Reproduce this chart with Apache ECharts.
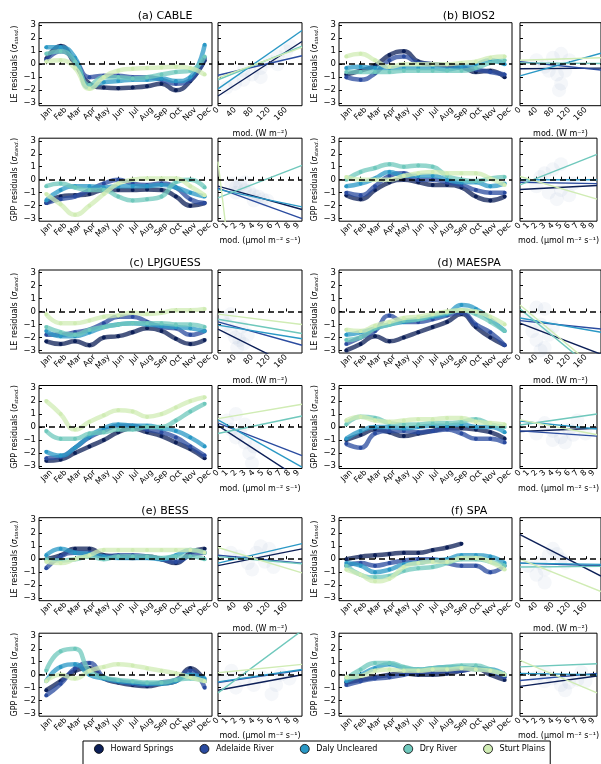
<!DOCTYPE html>
<html>
<head>
<meta charset="utf-8">
<script src="https://cdn.jsdelivr.net/npm/echarts@6/dist/echarts.min.js"></script>
<style>
html, body { margin: 0; padding: 0; background: #fff; }
#main { width: 601px; height: 764px; }
</style>
</head>
<body>
<div id="main"></div>
<script>
// sites and colours (YlGnBu-ish)
const sites = ['Howard Springs', 'Adelaide River', 'Daly Uncleared', 'Dry River', 'Sturt Plains'];
const siteColors = ['#0c1f57', '#2a4b9f', '#2a98c5', '#6fc8bc', '#d0ecb4'];
const months = ['Jan', 'Feb', 'Mar', 'Apr', 'May', 'Jun', 'Jul', 'Aug', 'Sep', 'Oct', 'Nov', 'Dec'];
const yTicks = [-3, -2, -1, 0, 1, 2, 3];
const leTicks = [0, 40, 80, 120, 160];
const gppTicks = [0, 1, 2, 3, 4, 5, 6, 7, 8, 9];
const leRange = [0, 197];
const gppRange = [0, 9.4];

// monthly residuals (Jan..Dec), one row per site
const cableLE = [
  [0.4, 1.4, 0.0, -1.5, -1.8, -1.85, -1.8, -1.7, -1.5, -2.0, -1.3, 0.3],
  [0.3, 1.0, 0.3, -1.0, -0.9, -0.9, -1.0, -1.0, -1.2, -1.5, -1.2, 0.5],
  [1.3, 1.3, 0.5, -1.8, -1.4, -1.3, -1.2, -1.2, -1.1, -1.3, -1.0, 1.5],
  [0.8, 1.0, 0.2, -1.6, -1.0, -1.0, -1.1, -1.0, -0.8, -0.6, -0.5, 0.6],
  [0.2, 0.3, -0.3, -1.9, -1.0, -0.5, -0.35, -0.3, -0.25, -0.2, -0.3, -0.8]
];
const cableGPP = [
  [-1.8, -1.3, -1.2, -1.1, -0.8, -0.8, -0.8, -0.75, -0.8, -1.3, -2.0, -1.8],
  [-1.8, -1.5, -1.3, -0.8, -0.3, 0.0, -0.3, -0.4, -0.3, -0.6, -1.5, -1.8],
  [-1.6, -0.8, -0.5, -0.5, -0.6, -0.5, -0.5, -0.5, -0.4, -0.6, -1.0, -1.3],
  [-0.5, -0.3, -0.6, -0.8, -0.8, -1.3, -1.6, -1.5, -1.3, -0.2, 0.0, -0.6],
  [-1.1, -1.9, -2.7, -2.0, -1.1, -0.3, 0.0, 0.1, 0.1, 0.1, -0.5, -1.2]
];
const bios2LE = [
  [-0.8, -0.5, -0.1, 0.7, 1.0, 0.2, 0.0, -0.1, -0.2, -0.6, -0.5, -1.0],
  [-1.0, -1.2, -0.7, 0.3, 0.6, 0.1, 0.0, -0.1, -0.3, -0.4, -0.6, -0.8],
  [-0.3, -0.2, -0.3, -0.3, -0.3, -0.3, -0.3, -0.4, -0.2, 0.0, 0.3, 0.0],
  [-0.6, -0.6, -0.6, -0.6, -0.5, -0.5, -0.5, -0.5, -0.5, -0.3, 0.1, 0.3],
  [0.6, 0.8, 0.3, -0.2, 0.0, 0.0, 0.0, 0.0, 0.1, 0.2, 0.5, 0.6]
];
const bios2GPP = [
  [-1.2, -1.5, -0.8, -0.2, 0.0, -0.2, -0.4, -0.4, -0.6, -1.3, -1.6, -1.3],
  [-1.0, -1.2, -0.5, 0.3, 0.5, 0.0, 0.0, -0.2, -0.4, -0.8, -1.0, -1.0],
  [-0.5, -0.3, 0.1, 0.6, 0.3, 0.3, 0.3, 0.0, -0.2, -0.2, -0.5, -0.3],
  [0.0, 0.6, 0.9, 1.2, 1.0, 1.1, 1.0, 0.3, 0.0, -0.1, 0.1, 0.2],
  [0.2, 0.0, 0.0, 0.0, 0.3, 0.5, 0.6, 0.5, 0.5, 0.5, 0.1, -0.4]
];
const lpjLE = [
  [-2.3, -2.5, -2.3, -2.6, -2.0, -1.9, -1.6, -1.3, -1.5, -2.1, -2.5, -2.2],
  [-1.8, -1.8, -1.6, -1.4, -0.9, -0.4, -0.4, -0.8, -1.2, -1.3, -1.8, -1.5],
  [-1.5, -1.9, -1.9, -1.6, -1.2, -1.0, -0.9, -1.0, -1.1, -1.2, -1.3, -1.5],
  [-1.2, -1.6, -1.8, -1.4, -1.2, -1.0, -0.9, -0.9, -0.9, -1.0, -1.0, -1.2],
  [-0.2, -0.9, -0.9, -0.7, -0.4, -0.3, -0.1, -0.2, -0.1, 0.1, 0.1, 0.2]
];
const lpjGPP = [
  [-2.6, -2.5, -2.0, -1.5, -1.0, -0.4, -0.1, -0.4, -0.7, -1.2, -1.7, -2.4],
  [-2.4, -2.3, -1.6, -0.8, -0.3, 0.1, 0.1, -0.2, -0.4, -0.8, -1.5, -2.2],
  [-1.9, -2.2, -1.6, -0.7, -0.1, 0.2, 0.1, 0.1, -0.1, -0.3, -0.8, -1.5],
  [-0.3, -0.9, -0.9, -0.5, -0.4, -0.2, -0.2, 0.0, 0.0, 0.5, 1.2, 1.8],
  [2.0, 1.0, -0.2, 0.4, 0.9, 1.3, 1.2, 0.8, 1.0, 1.5, 2.0, 2.3]
];
const maespaLE = [
  [-3.0, -2.5, -1.9, -2.3, -2.0, -1.6, -1.2, -0.8, -0.2, -1.2, -2.0, -2.6],
  [-2.5, -2.0, -1.5, -0.3, -0.8, -0.8, -0.6, -0.3, -0.1, -1.0, -1.6, -2.6],
  [-1.8, -1.6, -1.3, -1.0, -0.8, -0.6, -0.4, -0.2, 0.5, 0.2, -0.6, -1.5],
  [-2.2, -2.0, -1.3, -1.0, -0.7, -0.6, -0.3, -0.1, 0.1, -0.2, -0.8, -1.5],
  [-1.4, -1.5, -1.1, -0.8, -0.5, -0.4, -0.2, 0.0, 0.1, 0.0, -0.4, -1.0]
];
const maespaGPP = [
  [-1.0, -0.6, -0.2, -0.4, -0.7, -0.5, -0.3, -0.1, -0.1, -0.2, -0.4, -0.9],
  [-1.3, -1.6, -0.5, -0.3, -0.3, -0.4, -0.3, -0.2, -0.5, -0.9, -0.9, -1.2],
  [-0.9, -0.3, 0.0, 0.0, -0.1, 0.0, 0.1, 0.1, 0.2, 0.0, 0.0, -0.4],
  [0.2, 0.8, 0.7, 0.3, 0.2, 0.2, 0.3, 0.3, 0.4, 0.6, 0.2, 0.0],
  [0.5, 0.8, 0.5, 0.4, 0.5, 0.6, 0.6, 0.7, 0.7, 0.4, 0.3, 0.2]
];
const bessLE = [
  [0.0, 0.3, 0.8, 0.8, 0.3, 0.2, 0.1, 0.2, 0.0, -0.3, 0.5, 0.8],
  [-0.7, 0.2, 0.5, 0.5, 0.2, 0.3, 0.3, 0.2, 0.0, -0.2, 0.3, 0.5],
  [0.3, 0.8, 0.5, 0.4, 0.2, 0.1, 0.1, 0.1, 0.0, 0.3, 0.7, 0.5],
  [0.0, -0.1, 0.0, 0.2, 0.0, 0.2, 0.2, 0.2, 0.1, 0.2, 0.2, 0.0],
  [-0.2, -0.3, 0.0, 0.3, 0.7, 0.7, 0.7, 0.7, 0.7, 0.7, 0.7, 0.5]
];
const bessGPP = [
  [-1.2, -0.5, 0.3, 0.5, -0.3, -0.6, -0.8, -0.9, -0.7, -0.5, 0.5, -0.5],
  [-1.6, -0.7, 0.5, 0.9, -0.2, -0.5, -0.7, -0.8, -0.6, -0.4, 0.3, -1.0],
  [-0.5, 0.6, 0.8, 0.0, -0.3, -0.5, -0.6, -0.7, -0.7, -0.5, 0.0, -0.3],
  [0.3, 1.8, 2.0, 0.3, -0.2, -0.4, -0.5, -0.6, -0.6, -0.4, -0.3, -0.5],
  [-0.5, 0.0, -0.3, 0.3, 0.6, 0.8, 0.7, 0.5, 0.3, 0.1, -0.2, -0.5]
];
const spaLE = [
  [0.0, 0.2, 0.3, 0.4, 0.5, 0.5, 0.7, 0.9, 1.2, null, null, null],
  [-0.5, -0.3, -0.5, -0.3, -0.1, 0.0, 0.0, -0.3, -0.5, -0.5, -1.0, -0.5],
  [-0.3, -0.5, -1.0, -0.8, -0.4, -0.3, -0.1, 0.0, 0.3, 0.3, 0.2, -0.3],
  [-0.5, -1.2, -1.4, -1.3, -0.9, -0.7, -0.6, -0.3, 0.0, 0.0, -0.2, -0.5],
  [-0.8, -1.2, -1.7, -1.5, -0.6, -0.3, -0.2, -0.2, 0.1, 0.1, -0.2, -0.8]
];
const spaGPP = [
  [-0.6, -0.4, -0.2, 0.0, 0.1, 0.0, 0.0, 0.1, 0.3, 0.5, 0.0, -0.4],
  [-0.8, -0.5, -0.3, -0.2, 0.0, 0.2, 0.2, 0.3, 0.3, 0.5, 0.3, -0.2],
  [-0.5, 0.0, 0.5, 0.8, 0.5, 0.4, 0.5, 0.6, 0.6, 0.4, 0.4, 0.0],
  [-0.3, 0.4, 0.9, 0.9, 0.6, 0.4, 0.5, 0.6, 0.7, 0.7, 0.4, 0.0],
  [-0.2, -0.1, 0.3, 0.4, 0.3, 0.3, 0.4, 0.4, 0.5, 0.4, 0.3, 0.0]
];

// regression lines vs modelled value: [residual at low end, residual at high end]
const cableLEfit = [[-2.45, 1.75], [-0.85, 0.65], [-1.9, 2.6], [-1.2, 1.4], [-1.05, 1.3]];
const cableGPPfit = [[-0.5, -2.3], [-0.65, -3.0], [-0.75, -2.1], [-1.4, 1.1], [1.4, -52.7]];
const bios2LEfit = [[-0.35, -0.3], [0.2, -0.45], [-0.9, 0.85], [0.1, 0.05], [0.3, 0.5]];
const bios2GPPfit = [[-0.75, -0.45], [-0.2, -0.3], [0.0, 0.0], [-0.4, 1.95], [0.25, -1.5]];
const lpjLEfit = [[-1.35, -4.6], [-0.8, -2.6], [-1.05, -2.1], [-0.6, -1.7], [-0.2, -1.0]];
const lpjGPPfit = [[0.1, -4.1], [0.3, -2.2], [0.55, -3.1], [-0.5, 0.85], [0.65, 1.75]];
const maespaLEfit = [[-0.9, -3.3], [-0.7, -1.35], [-0.5, -1.6], [0.2, -4.95], [0.5, -4.7]];
const maespaGPPfit = [[-0.35, -0.1], [-0.3, -0.7], [0.45, -0.15], [0.15, 1.0], [0.55, -0.6]];
const bessLEfit = [[-0.5, 0.8], [0.3, -0.3], [-0.3, 1.2], [0.2, -0.35], [0.9, -1.05]];
const bessGPPfit = [[-1.2, 0.0], [-0.6, 0.35], [-0.55, 0.4], [-1.4, 3.4], [0.15, 0.8]];
const spaLEfit = [[1.9, -1.3], [-0.3, -0.5], [-0.3, -0.4], [-0.6, -0.55], [0.0, -2.5]];
const spaGPPfit = [[-0.9, -0.1], [-0.45, 0.1], [0.1, 0.0], [0.6, 0.85], [1.1, -1.4]];

// faint clouds of daily points behind the regression lines: [modelled, residual]
const cableLEcloud = [[20, -1.8], [40, -1.5], [60, -1.2], [80, -0.8], [100, -0.3], [120, 0.2], [140, 0.6], [160, 1.0], [60, -0.5], [100, -1.0], [140, 0.0], [170, 1.4]];
const cableGPPcloud = [[1.5, -0.3], [2, -0.6], [2.5, -0.4], [3, -0.8], [3.5, -0.9], [4, -1.2], [4.5, -1.3], [5, -1.5], [5.5, -1.6], [2, -1.0], [3, -0.2], [4, -1.6]];
const bios2LEcloud = [[40, 0.3], [60, -0.2], [80, 0.5], [90, -0.8], [100, -1.5], [100, 0.8], [110, -0.5], [120, 0.3], [95, -2.0], [70, -0.5]];
const bios2GPPcloud = [[2, -0.5], [3, 0.5], [3.5, -1.0], [4, 0.8], [5, 1.2], [5, -0.8], [6, -1.2], [6.5, -0.3], [4.5, -1.5], [2.5, 0.2]];
const lpjLEcloud = [[10, -0.5], [20, -1.0], [30, -1.5], [40, -2.0], [50, -2.2], [60, -2.5], [55, -1.2], [70, -1.8], [30, -0.2], [45, -2.8]];
const lpjGPPcloud = [[1, 0.5], [1.5, -0.2], [2, 1.0], [2.5, -0.5], [3, -1.2], [3.5, -2.0], [3.8, -2.8], [3, 0.2], [2, -0.8], [4, -1.5]];
const maespaLEcloud = [[20, -0.5], [30, -1.5], [40, -2.2], [50, -1.0], [60, -2.8], [60, 0.2], [70, -1.8], [80, -1.2], [40, 0.3], [50, -3.0]];
const maespaGPPcloud = [[2, -0.5], [3, 0.3], [4, -0.3], [5, -0.8], [5.5, -1.2], [6, -0.2], [6.5, -0.6], [7, 0.5], [8, -0.5], [4, -1.0]];
const bessLEcloud = [[30, 0.5], [50, 0.2], [70, -0.3], [90, 0.5], [100, 1.0], [110, -0.2], [120, 0.8], [130, -0.6], [80, -0.8], [140, 0.3]];
const bessGPPcloud = [[0.5, -0.5], [1.5, 0.3], [2, -1.0], [3, -0.3], [4, -0.8], [5, -0.2], [6, -1.5], [7, 0.0], [8, -0.3], [6.5, -0.8]];
const spaLEcloud = [[20, -0.5], [40, -1.2], [50, -0.3], [60, -1.8], [70, 0.3], [80, 0.8], [90, 0.4], [100, 0.0], [110, -0.3], [60, -0.8]];
const spaGPPcloud = [[2, -0.2], [3, -0.5], [4, -0.3], [5, -0.8], [5.5, -1.2], [6, -0.6], [7, -0.4], [7.5, 0.2], [8, -0.5], [3, 0.2]];

const models = [
  { title: '(a) CABLE', le: cableLE, gpp: cableGPP, leFit: cableLEfit, gppFit: cableGPPfit, leCloud: cableLEcloud, gppCloud: cableGPPcloud },
  { title: '(b) BIOS2', le: bios2LE, gpp: bios2GPP, leFit: bios2LEfit, gppFit: bios2GPPfit, leCloud: bios2LEcloud, gppCloud: bios2GPPcloud },
  { title: '(c) LPJGUESS', le: lpjLE, gpp: lpjGPP, leFit: lpjLEfit, gppFit: lpjGPPfit, leCloud: lpjLEcloud, gppCloud: lpjGPPcloud },
  { title: '(d) MAESPA', le: maespaLE, gpp: maespaGPP, leFit: maespaLEfit, gppFit: maespaGPPfit, leCloud: maespaLEcloud, gppCloud: maespaGPPcloud },
  { title: '(e) BESS', le: bessLE, gpp: bessGPP, leFit: bessLEfit, gppFit: bessGPPfit, leCloud: bessLEcloud, gppCloud: bessGPPcloud },
  { title: '(f) SPA', le: spaLE, gpp: spaGPP, leFit: spaLEfit, gppFit: spaGPPfit, leCloud: spaLEcloud, gppCloud: spaGPPcloud }
];

const FONT = 'DejaVu Sans';
const monthDays = months.map((m, i) => 15.2 + 30.4 * i);
const monthLabelPos = monthDays.map(d => d + 10.5);

// layout
const colLeft = [{ t: 39, m: 218, mw: 84 }, { t: 339, m: 520, mw: 81 }];
const blockTop = [22.7, 270, 517.7];
const titleX = [165, 469];
const H = 83;

const grids = [], xAxes = [], yAxes = [], series = [], graphics = [];

function minusFmt(v) { return String(v).replace('-', '\u2212'); }

function addPanel(left, top, width, xCfg, yCfg) {
  const g = grids.length;
  grids.push({ left: left, top: top, width: width, height: H, show: true,
    borderColor: '#000', borderWidth: 1, backgroundColor: 'rgba(0,0,0,0)' });
  xAxes.push(Object.assign({ gridIndex: g, type: 'value', axisLine: { show: false },
    splitLine: { show: false } }, xCfg));
  yAxes.push(Object.assign({ gridIndex: g, type: 'value', min: -3.2, max: 3.2,
    axisLine: { show: false }, splitLine: { show: false },
    axisTick: { inside: true, length: 3, customValues: yTicks, lineStyle: { color: '#000' } } }, yCfg));
  // zero reference line
  series.push({ type: 'line', name: 'zero', xAxisIndex: g, yAxisIndex: g, data: [], z: 6,
    markLine: { silent: true, symbol: 'none', label: { show: false }, animation: false,
      lineStyle: { color: '#000', type: [6, 4], width: 1.7 }, data: [{ yAxis: 0 }] } });
  return g;
}

function yName(v) {
  return {
    name: '{n|' + v + ' residuals (}{i|\u03c3}{s|stand.}{n|)}',
    nameLocation: 'middle', nameGap: 14, nameRotate: 90,
    nameTextStyle: { rich: {
      n: { fontSize: 8, fontFamily: FONT, color: '#000' },
      i: { fontSize: 8, fontFamily: FONT, fontStyle: 'italic', color: '#000' },
      s: { fontSize: 5, fontFamily: FONT, fontStyle: 'italic', color: '#000', padding: [4, 0, 0, 0] }
    } }
  };
}

models.forEach((md, i) => {
  const col = colLeft[i % 2];
  const bt = blockTop[Math.floor(i / 2)];
  graphics.push({ type: 'text', x: titleX[i % 2], y: bt - 7,
    style: { text: md.title, fontSize: 11, fontFamily: FONT, fill: '#000',
      textAlign: 'center', textVerticalAlign: 'middle' } });

  [['LE', md.le, md.leFit, md.leCloud, 0], ['GPP', md.gpp, md.gppFit, md.gppCloud, 115.5]].forEach(([v, vals, fit, cloud, dy]) => {
    const top = bt + dy;
    // time series panel
    const g = addPanel(col.t, top, 173, {
      min: 0, max: 365,
      axisTick: { inside: true, length: 3, customValues: monthDays, lineStyle: { color: '#000' } },
      axisLabel: { customValues: monthLabelPos, rotate: 45, fontSize: 8, fontFamily: FONT,
        color: '#000', margin: 3, formatter: val => months[Math.round((val - 25.7) / 30.4)] }
    }, Object.assign({
      axisLabel: { customValues: yTicks, fontSize: 8.5, fontFamily: FONT, color: '#000',
        margin: 3, formatter: minusFmt }
    }, yName(v)));
    vals.forEach((row, s) => {
      series.push({ type: 'line', name: sites[s], xAxisIndex: g, yAxisIndex: g,
        data: row.map((y, k) => [monthDays[k], y]), smooth: 0.5,
        showSymbol: true, symbol: 'circle', symbolSize: 4,
        itemStyle: { color: siteColors[s] },
        lineStyle: { color: siteColors[s], width: 4.5, opacity: 0.75 }, z: 2 + s * 0.1 });
    });
    // modelled-value panel
    const range = v === 'LE' ? leRange : gppRange;
    const ticks = v === 'LE' ? leTicks : gppTicks;
    const gm = addPanel(col.m, top, col.mw, {
      min: range[0], max: range[1],
      name: v === 'LE' ? 'mod. (W m\u207b\u00b2)' : 'mod. (\u03bcmol m\u207b\u00b2 s\u207b\u00b9)',
      nameLocation: 'middle', nameGap: v === 'LE' ? 24 : 16,
      nameTextStyle: { fontSize: 8, fontFamily: FONT, color: '#000' },
      axisTick: { inside: true, length: 3, customValues: ticks, lineStyle: { color: '#000' } },
      axisLabel: { customValues: ticks, rotate: 45, fontSize: 8, fontFamily: FONT, color: '#000', margin: 3 }
    }, { axisLabel: { show: false } });
    series.push({ type: 'scatter', name: 'cloud', xAxisIndex: gm, yAxisIndex: gm, data: cloud,
      symbolSize: 14, itemStyle: { color: '#3b5a9a', opacity: 0.05 }, z: 1 });
    fit.forEach((f, s) => {
      series.push({ type: 'line', name: sites[s], xAxisIndex: gm, yAxisIndex: gm,
        data: [[range[0], f[0]], [range[1], f[1]]], showSymbol: false, clip: true,
        itemStyle: { color: siteColors[s] },
        lineStyle: { color: siteColors[s], width: 1.4 }, z: 3 });
    });
  });
});

const myChart = echarts.init(document.getElementById('main'));
myChart.setOption({
  animation: false,
  grid: grids,
  xAxis: xAxes,
  yAxis: yAxes,
  series: series,
  graphic: graphics,
  legend: {
    data: sites, left: 83, top: 741, orient: 'horizontal',
    icon: 'circle', itemWidth: 13, itemHeight: 9, itemGap: 26,
    padding: [3, 5, 14, 11], borderColor: '#000', borderWidth: 1,
    itemStyle: { borderColor: '#000', borderWidth: 0.8 },
    textStyle: { fontSize: 8, fontFamily: FONT, color: '#000' },
    selectedMode: false
  }
});
</script>
</body>
</html>
